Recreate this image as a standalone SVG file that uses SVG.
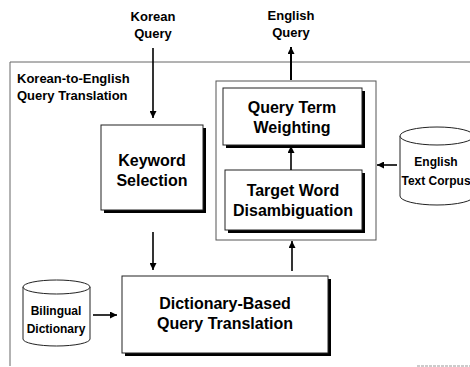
<svg xmlns="http://www.w3.org/2000/svg" width="470" height="367" viewBox="0 0 470 367">
<defs>
<style>
text{font-family:"Liberation Sans",Arial,sans-serif;font-weight:bold;fill:#000;text-anchor:middle}
.lbl{font-size:13px}
.big{font-size:16px}
.sm{font-size:12px}
.box{fill:#fff;stroke:#222;stroke-width:1}
.shadow{fill:#000}
.frame{fill:none;stroke:#666;stroke-width:1}
.conn{fill:none;stroke:#000;stroke-width:1.6}
.cyl{fill:#fff;stroke:#222;stroke-width:1}
</style>
<marker id="ah" viewBox="0 0 10 10" refX="10" refY="5" markerWidth="7" markerHeight="7" markerUnits="userSpaceOnUse" orient="auto">
<path d="M0,0 L10,5 L0,10 z" fill="#000"/>
</marker>
</defs>
<rect width="470" height="367" fill="#fff"/>

<g id="frame">
<path class="frame" d="M10,366 V62 H470"/>
<path d="M417,366 H470" fill="none" stroke="#999" stroke-width="1" stroke-dasharray="3,1"/>
<text class="lbl" x="17" y="83" style="text-anchor:start">Korean-to-English</text>
<text class="lbl" x="17" y="100" style="text-anchor:start">Query Translation</text>
</g>

<g id="korean-query">
<text class="lbl" x="153" y="21">Korean</text>
<text class="lbl" x="153" y="38">Query</text>
</g>

<g id="english-query">
<text class="lbl" x="291" y="20">English</text>
<text class="lbl" x="291" y="37">Query</text>
</g>

<g id="keyword-selection">
<rect class="shadow" x="104" y="128" width="102" height="85"/>
<rect class="box" x="101" y="125" width="102" height="85"/>
<text class="big" x="152" y="166">Keyword</text>
<text class="big" x="152" y="186">Selection</text>
</g>

<g id="disambiguation-group">
<rect x="216" y="81" width="160" height="159" fill="#fff" stroke="#555" stroke-width="1"/>
</g>

<g id="query-term-weighting">
<rect class="shadow" x="226" y="91" width="139" height="57"/>
<rect class="box" x="223" y="88" width="139" height="57"/>
<text class="big" x="292" y="113">Query Term</text>
<text class="big" x="292" y="133">Weighting</text>
</g>

<g id="target-word-disambiguation">
<rect class="shadow" x="228" y="173" width="137" height="60"/>
<rect class="box" x="225" y="170" width="137" height="60"/>
<text class="big" x="293" y="196">Target Word</text>
<text class="big" x="293" y="216">Disambiguation</text>
</g>

<g id="english-text-corpus">
<path class="cyl" d="M400,136 V196 A37,9 0 0 0 474,196 V136"/>
<ellipse class="cyl" cx="437" cy="136" rx="37" ry="9"/>
<text class="sm" x="436" y="166">English</text>
<text class="sm" x="436" y="185">Text Corpus</text>
</g>

<g id="bilingual-dictionary">
<path class="cyl" d="M23,287 V339 A33.5,7 0 0 0 90,339 V287"/>
<ellipse class="cyl" cx="56.5" cy="287" rx="33.5" ry="7"/>
<text class="sm" x="56" y="315">Bilingual</text>
<text class="sm" x="56" y="333">Dictionary</text>
</g>

<g id="dictionary-based-query-translation">
<rect class="shadow" x="125" y="279" width="206" height="77"/>
<rect class="box" x="122" y="276" width="206" height="77"/>
<text class="big" x="225" y="309">Dictionary-Based</text>
<text class="big" x="225" y="329">Query Translation</text>
</g>

<g id="connectors">
<line class="conn" x1="153" y1="48" x2="153" y2="118" marker-end="url(#ah)"/>
<line class="conn" x1="291" y1="80" x2="291" y2="47" marker-end="url(#ah)" style="stroke-width:2"/>
<line class="conn" x1="291" y1="170" x2="291" y2="146" marker-end="url(#ah)"/>
<line class="conn" x1="153" y1="232" x2="153" y2="270" marker-end="url(#ah)"/>
<line class="conn" x1="292" y1="271" x2="292" y2="241" marker-end="url(#ah)"/>
<line class="conn" x1="93" y1="315" x2="117" y2="315" marker-end="url(#ah)"/>
<line class="conn" x1="397" y1="165" x2="377" y2="165" marker-end="url(#ah)"/>
</g>
</svg>
